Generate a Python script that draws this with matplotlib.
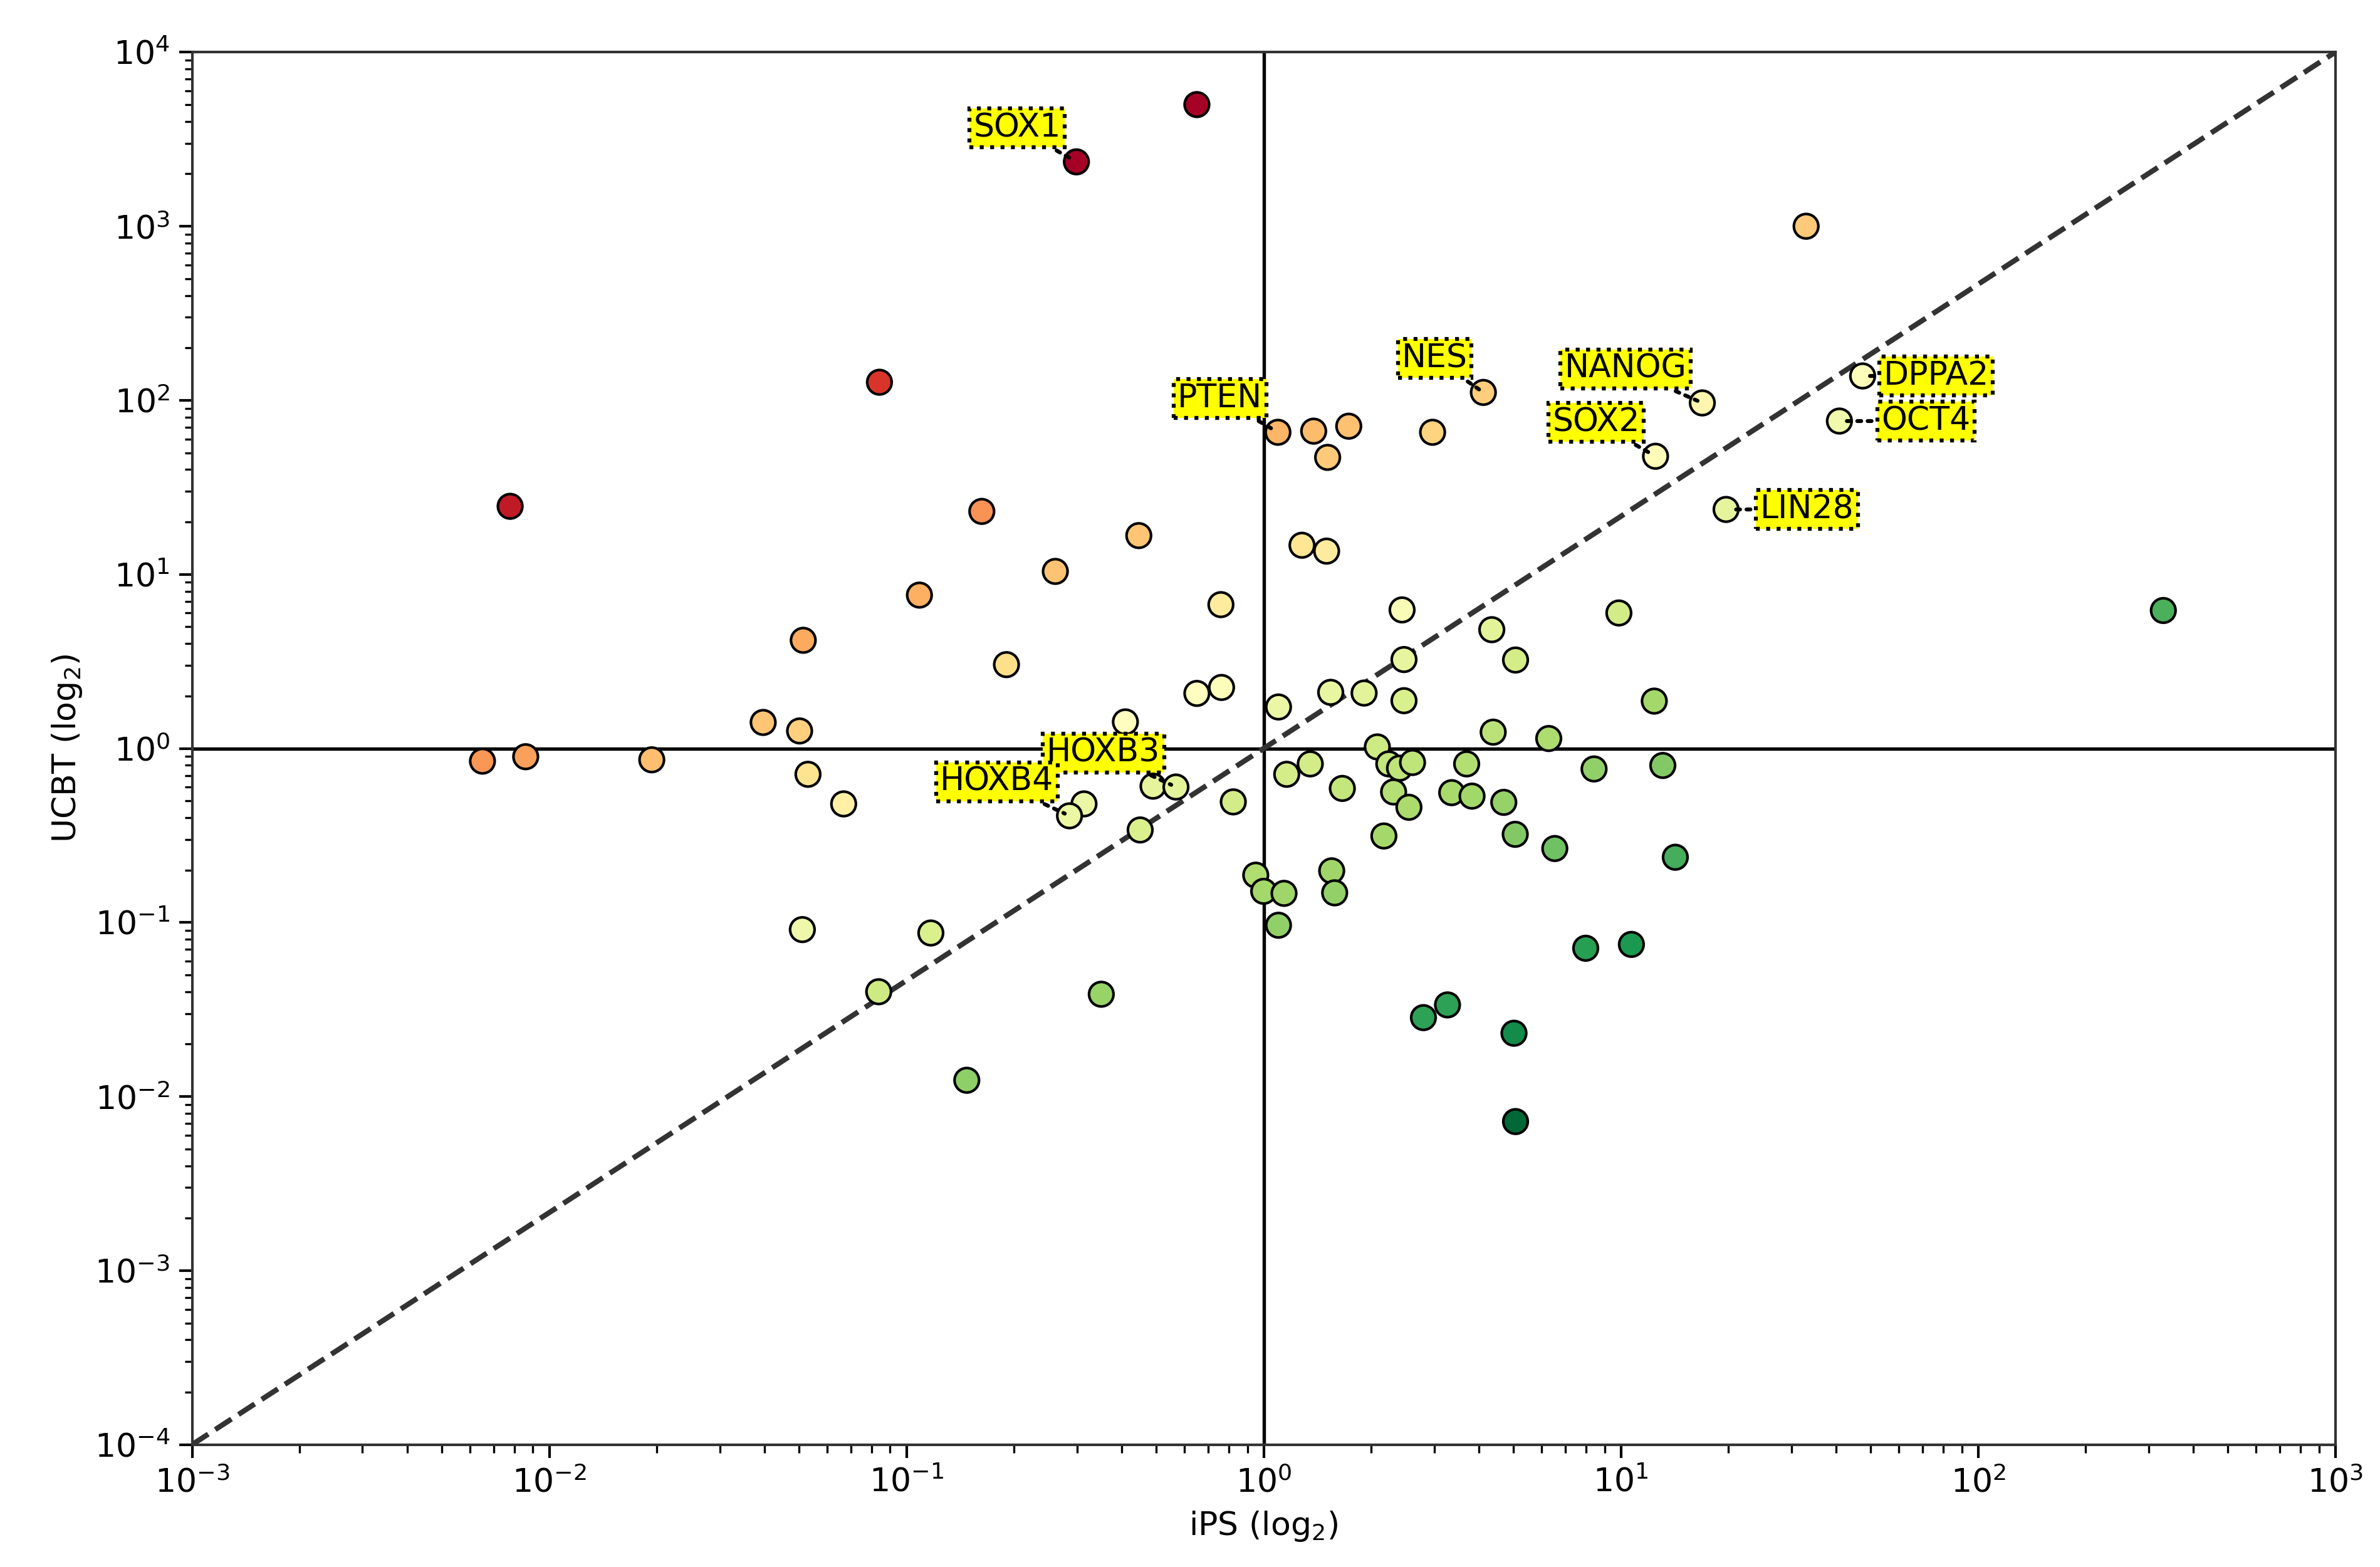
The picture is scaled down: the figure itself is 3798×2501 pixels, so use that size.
import numpy as np
import matplotlib
matplotlib.use("Agg")
import matplotlib.pyplot as plt

# ---- data (iPS expression, UCBT expression) ----
ips = [
    0.650, 0.299, 0.0840, 0.00777, 0.1625, 0.447, 0.261, 0.1087, 0.759, 0.0514,
    0.1905, 0.650, 0.762, 0.410, 0.0397, 0.0502, 0.0065, 0.00859, 0.01936, 0.0530,
    0.0667, 0.490, 0.568, 0.314, 0.286, 0.822, 0.451, 0.0511, 0.117, 0.0836,
    0.351, 0.1475,
    1.096, 1.38, 1.73, 1.51, 2.97, 4.12, 16.9, 12.5, 47.5, 40.9,
    19.7, 1.28, 1.50, 33.0, 330.0,
    2.44, 9.87, 4.35, 5.07, 2.47, 1.54, 1.91, 2.47, 1.10, 12.4,
    4.39, 6.28, 2.08, 1.35, 1.16, 2.24, 2.40, 2.61, 3.70, 8.41,
    13.1, 1.66, 2.31, 2.55, 3.36, 3.83, 4.70, 2.17, 5.06, 6.53,
    14.2,
    0.95, 1.00, 1.14, 1.55, 1.58, 1.10, 7.97, 10.7, 2.80, 3.27,
    5.02, 5.07,
]
ucbt = [
    5000, 2344, 127, 24.6, 23.0, 16.7, 10.4, 7.6, 6.7, 4.18,
    3.03, 2.07, 2.24, 1.42, 1.41, 1.26, 0.845, 0.896, 0.86, 0.71,
    0.48, 0.607, 0.60, 0.48, 0.41, 0.493, 0.34, 0.091, 0.087, 0.040,
    0.0387, 0.0124,
    65.5, 66.5, 71, 47, 65.5, 111, 96.6, 47.7, 138, 76,
    23.6, 14.7, 13.6, 1000, 6.2,
    6.25, 6.0, 4.81, 3.22, 3.24, 2.10, 2.08, 1.88, 1.73, 1.87,
    1.24, 1.14, 1.02, 0.815, 0.71, 0.815, 0.77, 0.83, 0.815, 0.762,
    0.798, 0.589, 0.562, 0.459, 0.557, 0.532, 0.49, 0.314, 0.321, 0.266,
    0.237,
    0.187, 0.151, 0.147, 0.198, 0.148, 0.0964, 0.0711, 0.0748, 0.0284, 0.0336,
    0.0231, 0.00718,
]

# labelled genes: name, iPS, UCBT, side
label_names = ["SOX1", "PTEN", "NES", "NANOG", "SOX2", "HOXB3", "HOXB4", "DPPA2", "OCT4", "LIN28"]
label_ips = [0.299, 1.096, 4.12, 16.9, 12.5, 0.568, 0.286, 47.5, 40.9, 19.7]
label_ucbt = [2344, 65.5, 111, 96.6, 47.7, 0.60, 0.41, 138, 76, 23.6]
label_side = ["left", "left", "left", "left", "left", "left", "left", "right", "right", "right"]

x = np.array(ips)
y = np.array(ucbt)
cval = np.log10(x) - np.log10(y)

W, H, DPI = 3798, 2501, 300
fig = plt.figure(figsize=(W / DPI, H / DPI), dpi=DPI)
ax = fig.add_axes([306.5 / W, 1 - 2305.7 / H, (3726.7 - 306.5) / W, (2305.7 - 83.3) / H])

ax.set_xscale("log")
ax.set_yscale("log")
ax.set_xlim(1e-3, 1e3)
ax.set_ylim(1e-4, 1e4)

ax.axhline(1, color="black", lw=1.3, zorder=0.5)
ax.axvline(1, color="black", lw=1.3, zorder=0.5)
ax.plot([0, 1], [0, 1], transform=ax.transAxes, ls="--", color="#333333", lw=2.0, zorder=0.6)

ax.scatter(x, y, c=cval, cmap="RdYlGn", s=88, edgecolors="black", linewidths=1.0, zorder=2)

right_offsets = {"DPPA2": (8, 0), "OCT4": (16, 0), "LIN28": (13, 0)}
for name, lx, ly, side in zip(label_names, label_ips, label_ucbt, label_side):
    if side == "left":
        off = (-6, 7)
        ha, va = "right", "bottom"
    else:
        off = right_offsets[name]
        ha, va = "left", "center"
    ax.annotate(name, xy=(lx, ly), xytext=off, textcoords="offset points",
                ha=ha, va=va, fontsize=12.5, zorder=5,
                bbox=dict(boxstyle="square,pad=0.12", fc="yellow", ec="black", ls=":", lw=1.5),
                arrowprops=dict(arrowstyle="-", ls=":", color="black", lw=1.5))

ax.tick_params(axis="both", which="major", labelsize=12.5, length=5, width=1.0)
ax.tick_params(axis="both", which="minor", length=3, width=0.8)
ax.set_xlabel("iPS (log$_2$)", fontsize=12.5, labelpad=4)
ax.set_ylabel("UCBT (log$_2$)", fontsize=12.5, labelpad=4)
for sp in ax.spines.values():
    sp.set_color("#333333")
    sp.set_linewidth(1.0)

fig.savefig("out.png", dpi=DPI)
